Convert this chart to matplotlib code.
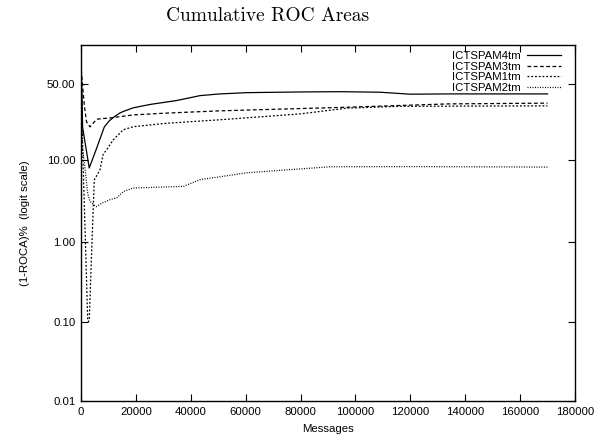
import matplotlib
matplotlib.use("Agg")
import matplotlib.pyplot as plt
from matplotlib.ticker import FixedLocator, NullLocator, FixedFormatter
import numpy as np

# ---- data (messages, (1-ROCA)% ) ----
m4 = [100, 600, 3000, 5500, 8500, 10300, 12100, 14200, 15400, 19000, 25100, 34900,
      43400, 50600, 60500, 80000, 94400, 109000, 120000, 135000, 170000]
v4 = [60, 22, 8.0, 12.9, 22.3, 25.5, 27.8, 30.1, 31.0, 33.3, 35.5, 38.2,
      41.6, 42.8, 43.7, 44.2, 44.4, 44.0, 42.6, 42.8, 42.8]

m3 = [100, 1200, 2000, 3300, 5700, 8000, 10000, 19000, 31200, 50600, 97000, 134000, 170000]
v3 = [60, 35, 25.0, 22.3, 26.4, 26.8, 27.0, 28.9, 30.0, 31.4, 33.7, 35.9, 36.4]

m1 = [100, 600, 1460, 2440, 2730, 3025, 3900, 4850, 6900, 8100, 9365, 11770, 15400,
      19060, 31230, 50650, 79800, 96900, 116000, 170000]
v1 = [60, 12.9, 1.5, 0.107, 0.10, 0.107, 0.8, 5.8, 7.6, 11.5, 12.9, 16.5, 20.9,
      22.4, 24.2, 26.1, 29.5, 33.1, 34.3, 34.6]

m2 = [100, 600, 1460, 2440, 3280, 5500, 8000, 10570, 13100, 15400, 19060, 37300,
      43400, 60500, 90700, 121000, 170000]
v2 = [60, 13, 8.0, 4.0, 3.2, 2.75, 3.08, 3.35, 3.54, 4.2, 4.64, 4.85,
      5.83, 7.04, 8.27, 8.31, 8.2]

series_names = ["ICTSPAM4tm", "ICTSPAM3tm", "ICTSPAM1tm", "ICTSPAM2tm"]
x_ticks = [0, 20000, 40000, 60000, 80000, 100000, 120000, 140000, 160000, 180000]
y_ticks = [0.01, 0.10, 1.00, 10.00, 50.00]
y_tick_labels = ["0.01", "0.10", "1.00", "10.00", "50.00"]

fig = plt.figure(figsize=(5.96, 4.37), dpi=100)
ax = fig.add_axes([81/596, 1-401/437, (575-81)/596, (401-45)/437])

styles = ["-", (0, (3, 2)), (0, (1.5, 1.5)), (0, (0.8, 1.2))]
for (mx, vy), name, ls in zip([(m4, v4), (m3, v3), (m1, v1), (m2, v2)], series_names, styles):
    ax.plot(mx, np.array(vy) / 100.0, color="black", lw=0.9, ls=ls, label=name)

ax.set_yscale("logit")
ax.set_ylim(0.0001, 0.756)
ax.set_xlim(0, 180000)
ax.yaxis.set_major_locator(FixedLocator([t / 100 for t in y_ticks]))
ax.yaxis.set_major_formatter(FixedFormatter(y_tick_labels))
ax.yaxis.set_minor_locator(NullLocator())
ax.set_xticks(x_ticks)
ax.set_xticklabels([str(t) for t in x_ticks])

tick_font = "Liberation Sans"
for lab in ax.get_xticklabels() + ax.get_yticklabels():
    lab.set_fontfamily(tick_font)
    lab.set_fontsize(8.2)
ax.tick_params(direction="in", top=True, right=True, length=5, width=0.8, pad=4)
for s in ax.spines.values():
    s.set_linewidth(1.0)

ax.set_xlabel("Messages", fontfamily=tick_font, fontsize=8.2, labelpad=5)
ax.set_ylabel("(1-ROCA)%  (logit scale)", fontfamily=tick_font, fontsize=8.2, labelpad=12)

fig.text(268/596, 1-16/437, "Cumulative ROC Areas", ha="center", va="center",
         fontfamily="cmr10", fontsize=14)

leg = ax.legend(loc="upper right", bbox_to_anchor=(569/596, 1-43/437),
                bbox_transform=fig.transFigure, frameon=False, markerfirst=False,
                handlelength=3.0, labelspacing=0.05, handletextpad=0.5,
                borderpad=0.2, prop={"family": tick_font, "size": 8.2})

fig.savefig("out.png", dpi=100)
